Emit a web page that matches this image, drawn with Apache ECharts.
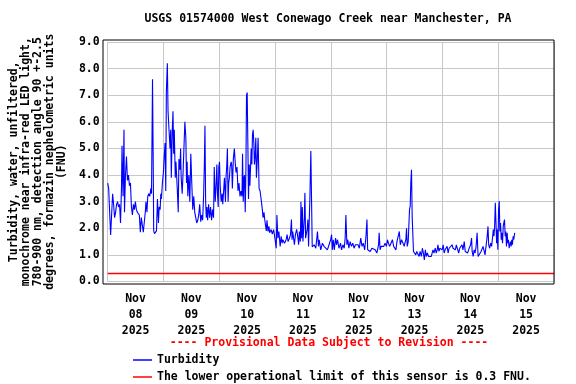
<!DOCTYPE html>
<html><head><meta charset="utf-8">
<script src="https://cdn.jsdelivr.net/npm/echarts@6/dist/echarts.min.js"></script>
<style>html,body{margin:0;padding:0;background:#fff}#c{width:576px;height:384px}</style>
</head><body><div id="c"></div>
<script>
// Hours since 2025-11-08 00:00
const hours = [
0,0.43,0.85,1.28,1.70,2.13,2.55,2.98,3.41,3.83,
4.26,4.68,5.11,5.53,5.96,6.17,6.60,7.02,7.24,7.66,
8.09,8.51,8.94,9.37,9.79,10.22,10.64,11.07,11.49,11.92,
12.35,12.77,13.2,13.62,14.05,14.47,14.9,15.32,15.75,16.18,
16.47,16.9,17.24,17.67,18.1,18.6,18.86,19.29,19.58,19.8,
20.14,20.43,20.99,21.41,21.84,22.14,22.56,22.86,23.12,23.54,
23.97,24.26,24.69,24.99,25.24,25.67,25.97,26.39,26.82,27.12,
27.37,27.8,28.1,28.39,28.65,29.08,29.37,29.93,30.35,30.65,
31.08,31.37,31.63,32.06,32.48,32.91,33.21,33.63,33.93,34.18,
34.48,34.91,35.33,35.76,36.18,36.61,37.04,37.46,37.89,38.31,
38.74,39.16,39.59,40.02,40.44,40.87,41.29,41.59,41.85,42.14,
42.44,42.7,43.0,43.42,43.85,44.27,44.7,45.13,45.55,45.85,
46.27,46.7,46.96,47.25,47.55,47.81,48.11,48.41,48.83,49.26,
49.51,49.81,50.23,50.66,50.96,51.21,51.51,51.81,52.06,52.36,
52.66,53.09,53.34,53.64,54.06,54.49,54.92,55.21,55.64,56.07,
56.49,56.92,57.34,57.77,58.02,58.32,58.62,58.88,59.17,59.47,
59.73,60.02,60.32,60.58,60.88,61.17,61.43,61.73,62.03,62.28,
62.58,62.88,63.13,63.43,63.73,63.98,64.28,64.71,65.13,65.56,
65.98,66.28,66.54,66.84,67.26,67.56,
68.24,68.54,68.97,69.39,69.69,70.37,70.80,71.39,71.82,72.50,
72.80,73.22,73.65,74.20,74.63,75.05,75.35,76.08,76.76,77.18,
77.61,78.20,78.63,79.06,79.31,79.61,80.33,80.76,81.31,81.74,
82.16,82.46,82.89,83.14,83.44,83.74,84.0,84.59,84.85,85.14,
85.57,85.87,86.12,86.42,86.72,86.98,87.27,87.40,87.70,88.0,
88.42,88.85,89.53,90.25,90.68,90.98,91.66,92.38,93.10,93.79,
94.51,95.23,95.92,96.34,96.64,97.06,97.49,98.04,98.47,98.90,
99.49,100.17,100.60,101.19,101.75,102.17,102.47,102.90,103.32,103.75,
104.30,104.86,105.45,106.0,106.56,107.15,107.71,108.26,108.86,109.41,
109.96,110.56,111.11,111.54,111.84,112.26,112.94,113.67,114.39,115.07,
115.80,116.22,116.52,116.78,117.20,117.63,118.22,118.78,119.33,119.92,
120.35,120.78,121.33,121.88,122.48,123.03,123.59,124.01,124.44,125.03,
125.46,125.88,126.44,127.16,127.59,127.84,128.27,128.57,128.86,129.29,
129.55,129.84,130.14,130.40,130.70,131.0,131.25,131.55,131.84,132.10,
132.53,132.95,133.55,133.97,134.40,134.95,135.38,135.81,136.23,136.66,
137.08,137.51,138.06,138.66,139.21,139.93,140.36,140.91,141.34,141.76,
142.06,142.49,142.91,143.47,143.89,144.32,144.74,145.17,145.60,146.02,
146.45,146.87,147.30,147.72,148.15,148.58,149.13,149.56,149.98,150.58,
151.0,151.43,151.98,152.41,152.83,153.39,153.81,154.24,154.83,155.26,
155.68,156.11,156.54,156.79,157.22,157.64,158.07,158.49,158.92,159.35,
159.77,160.20,160.62,161.05,161.48,161.90,162.33,162.75,163.18,163.61,
163.90,164.33,164.76,165.18,165.61,165.90,166.16,166.46,166.75,167.01,
167.31,167.60,167.86,168.16,168.45,168.71,169.01,169.31,169.56,169.86,
170.16,170.41,170.71,171.01,171.26,171.56,171.86,172.11,172.42,172.71,
172.97,173.27,173.56,173.82,174.12,174.42,174.67,175.10
];
// Turbidity, FNU
const turbidity = [
3.7,3.5,2.6,1.75,1.8,3.3,2.9,2.4,2.6,2.9,
3.0,2.8,2.9,2.2,3.6,5.1,3.2,5.7,2.6,4.0,
4.7,3.8,4.0,3.6,3.7,2.8,2.5,2.9,2.7,3.0,
2.7,2.6,2.6,2.5,1.85,2.4,2.4,1.85,1.8,2.6,
3.0,2.6,3.2,3.3,3.2,3.5,3.3,7.6,4.6,1.9,
1.8,1.76,1.9,3.1,2.2,2.8,2.7,3.3,3.1,3.7,
4.1,4.6,5.2,3.4,7.1,8.2,6.4,5.7,5.0,5.7,
3.9,5.7,6.4,4.8,5.7,3.9,4.5,3.5,2.6,4.6,
4.2,5.0,3.9,3.3,4.2,4.2,6.0,5.4,3.7,4.5,
3.2,4.0,3.0,4.8,3.7,2.7,3.2,2.6,2.4,2.2,
2.3,2.5,2.9,2.25,2.5,2.3,3.3,4.4,5.85,3.0,
2.4,2.8,2.3,2.9,2.4,2.8,2.3,2.7,2.4,4.3,
3.0,3.7,4.4,3.3,2.8,4.3,4.5,3.6,3.0,3.3,
2.9,3.3,3.9,3.0,4.0,4.3,5.0,3.0,3.7,3.9,
4.3,4.5,4.4,3.5,4.6,5.0,4.4,4.1,4.3,3.4,
3.7,3.2,3.4,3.2,4.8,3.0,3.9,4.0,2.6,4.2,
7.0,7.1,5.1,3.1,4.4,3.6,4.2,5.0,4.4,5.5,
5.7,5.2,4.4,4.7,5.4,3.9,4.4,5.4,3.5,3.4,
3.4,2.9,2.7,2.4,2.6,2.33,
1.9,2.3,1.88,2.07,1.83,1.95,1.78,1.95,1.7,1.25,
2.5,1.63,1.88,1.32,1.7,1.44,1.57,1.44,1.57,1.76,
1.5,1.63,1.76,2.33,1.57,1.88,1.38,1.76,1.96,1.7,
1.38,1.88,1.5,3.0,1.63,2.8,1.5,2.4,3.33,1.63,
1.7,2.0,2.33,1.32,2.33,3.1,3.1,4.9,3.1,1.3,
1.25,1.38,1.25,1.88,1.32,1.57,1.19,1.44,1.32,1.38,
1.19,1.38,1.57,1.76,1.19,1.57,1.19,1.63,1.38,1.57,
1.25,1.44,1.19,1.38,1.25,1.63,2.5,1.38,1.57,1.25,
1.5,1.32,1.44,1.25,1.38,1.32,1.38,1.25,1.63,1.32,
1.44,1.19,1.7,2.33,1.19,1.13,1.13,1.25,1.32,1.19,
1.07,1.0,1.38,1.83,1.19,1.32,1.38,1.32,1.44,1.32,
1.57,1.44,1.32,1.44,1.57,1.32,1.38,1.19,1.5,1.57,
1.88,1.38,1.57,1.57,1.32,1.44,1.57,2.0,1.32,1.5,
1.44,2.7,2.83,3.71,4.2,2.4,1.83,1.13,1.19,1.07,
1.0,1.13,1.07,0.94,1.13,0.94,1.25,1.07,0.81,1.19,
0.94,1.07,0.94,1.0,0.94,1.19,1.07,1.25,1.07,1.19,
1.38,1.13,1.25,1.32,1.19,1.38,1.07,1.19,1.13,1.32,
1.07,1.25,1.32,1.19,1.38,1.25,1.32,1.19,1.38,1.19,
1.07,1.25,1.19,1.38,1.19,1.5,1.13,1.19,1.07,1.19,
1.25,1.38,1.63,1.13,0.94,1.19,1.07,1.32,1.83,0.94,
1.0,0.94,1.13,1.19,1.32,1.25,1.0,1.32,1.63,2.07,
1.38,1.25,1.44,1.32,1.7,1.95,1.7,2.07,2.96,2.3,
1.44,1.95,1.19,2.7,3.02,1.88,2.2,1.57,1.83,1.44,
2.07,2.2,2.33,1.7,1.88,1.32,1.83,1.44,1.57,1.25,
1.32,1.5,1.32,1.57,1.38,1.7,1.57,1.83
];
const dayLabels = ['Nov\n08\n2025','Nov\n09\n2025','Nov\n10\n2025','Nov\n11\n2025','Nov\n12\n2025','Nov\n13\n2025','Nov\n14\n2025','Nov\n15\n2025'];
const lowerLimit = 0.3;
const rangeHours = [0, 192];
const yRange = [0, 9];
const titleText = 'USGS 01574000 West Conewago Creek near Manchester, PA';
const yName = 'Turbidity, water, unfiltered,\nmonochrome near infra-red LED light,\n780-900 nm, detection angle 90 +-2.5\ndegrees, formazin nephelometric units\n(FNU)';
const seriesName = 'Turbidity';
const limitName = 'The lower operational limit of this sensor is 0.3 FNU.';
const provisional = '---- Provisional Data Subject to Revision ----';

const FONT = 'DejaVu Sans Mono';
const n = Math.min(hours.length, turbidity.length);
const lineData = [];
for (let i = 0; i < n; i++) lineData.push([hours[i], turbidity[i]]);

const chart = echarts.init(document.getElementById('c'), null, {renderer: 'canvas'});
const txt = {fontFamily: FONT, fontWeight: 'bold', fontSize: 11.5, color: '#000'};
const legendBase = {orient: 'horizontal', left: 128, itemWidth: 19, itemHeight: 1.5, itemGap: 5, icon: 'rect', textStyle: txt};
chart.setOption({
  animation: false,
  backgroundColor: '#fff',
  grid: [
    {left: 103, right: 22, top: 42, bottom: 102.5, show: false},
    {left: 103, right: 22, top: 40, bottom: 100, show: true, borderColor: '#000', borderWidth: 1, backgroundColor: 'transparent', z: 10}
  ],
  xAxis: [
    {type: 'value', gridIndex: 0, min: rangeHours[0], max: rangeHours[1], interval: 24,
     axisLine: {show: false}, axisTick: {show: false}, axisLabel: {show: false},
     splitLine: {show: true, lineStyle: {color: '#c8c8c8', width: 1}}},
    {type: 'category', gridIndex: 0, data: dayLabels, position: 'bottom', boundaryGap: true,
     axisLine: {show: false}, axisTick: {show: false}, splitLine: {show: false},
     axisLabel: Object.assign({margin: 10, lineHeight: 16}, txt)},
    {type: 'value', gridIndex: 1, show: false, min: 0, max: 1}
  ],
  yAxis: [
    {type: 'value', gridIndex: 0, min: yRange[0], max: yRange[1], interval: 1,
     axisLine: {show: false}, axisTick: {show: false},
     axisLabel: Object.assign({margin: 8, formatter: v => v.toFixed(1)}, txt),
     splitLine: {show: true, lineStyle: {color: '#c8c8c8', width: 1}},
     name: yName, nameLocation: 'middle', nameRotate: 90, nameGap: 34,
     nameTextStyle: Object.assign({lineHeight: 12, align: 'center'}, txt)},
    {type: 'value', gridIndex: 1, show: false, min: 0, max: 1}
  ],
  legend: [
    Object.assign({top: 349, data: [seriesName]}, legendBase),
    Object.assign({top: 366, data: [limitName]}, legendBase)
  ],
  graphic: [
    {type: 'text', x: 328, y: 19, style: {text: titleText, textAlign: 'center', textVerticalAlign: 'middle', font: 'bold 11.5px "DejaVu Sans Mono"', fill: '#000'}},
    {type: 'text', x: 329, y: 343, style: {text: provisional, textAlign: 'center', textVerticalAlign: 'middle', font: 'bold 11.5px "DejaVu Sans Mono"', fill: '#ff0000'}}
  ],
  series: [
    {name: seriesName, type: 'line', xAxisIndex: 0, yAxisIndex: 0, data: lineData,
     showSymbol: false, symbol: 'none', color: '#0000ff', lineStyle: {color: '#0000ff', width: 1.1}, z: 3},
    {name: limitName, type: 'line', xAxisIndex: 0, yAxisIndex: 0, data: [[rangeHours[0], lowerLimit], [rangeHours[1], lowerLimit]],
     showSymbol: false, symbol: 'none', color: '#ff0000', lineStyle: {color: '#ff0000', width: 1.5}, z: 4}
  ]
});
</script>
</body></html>
